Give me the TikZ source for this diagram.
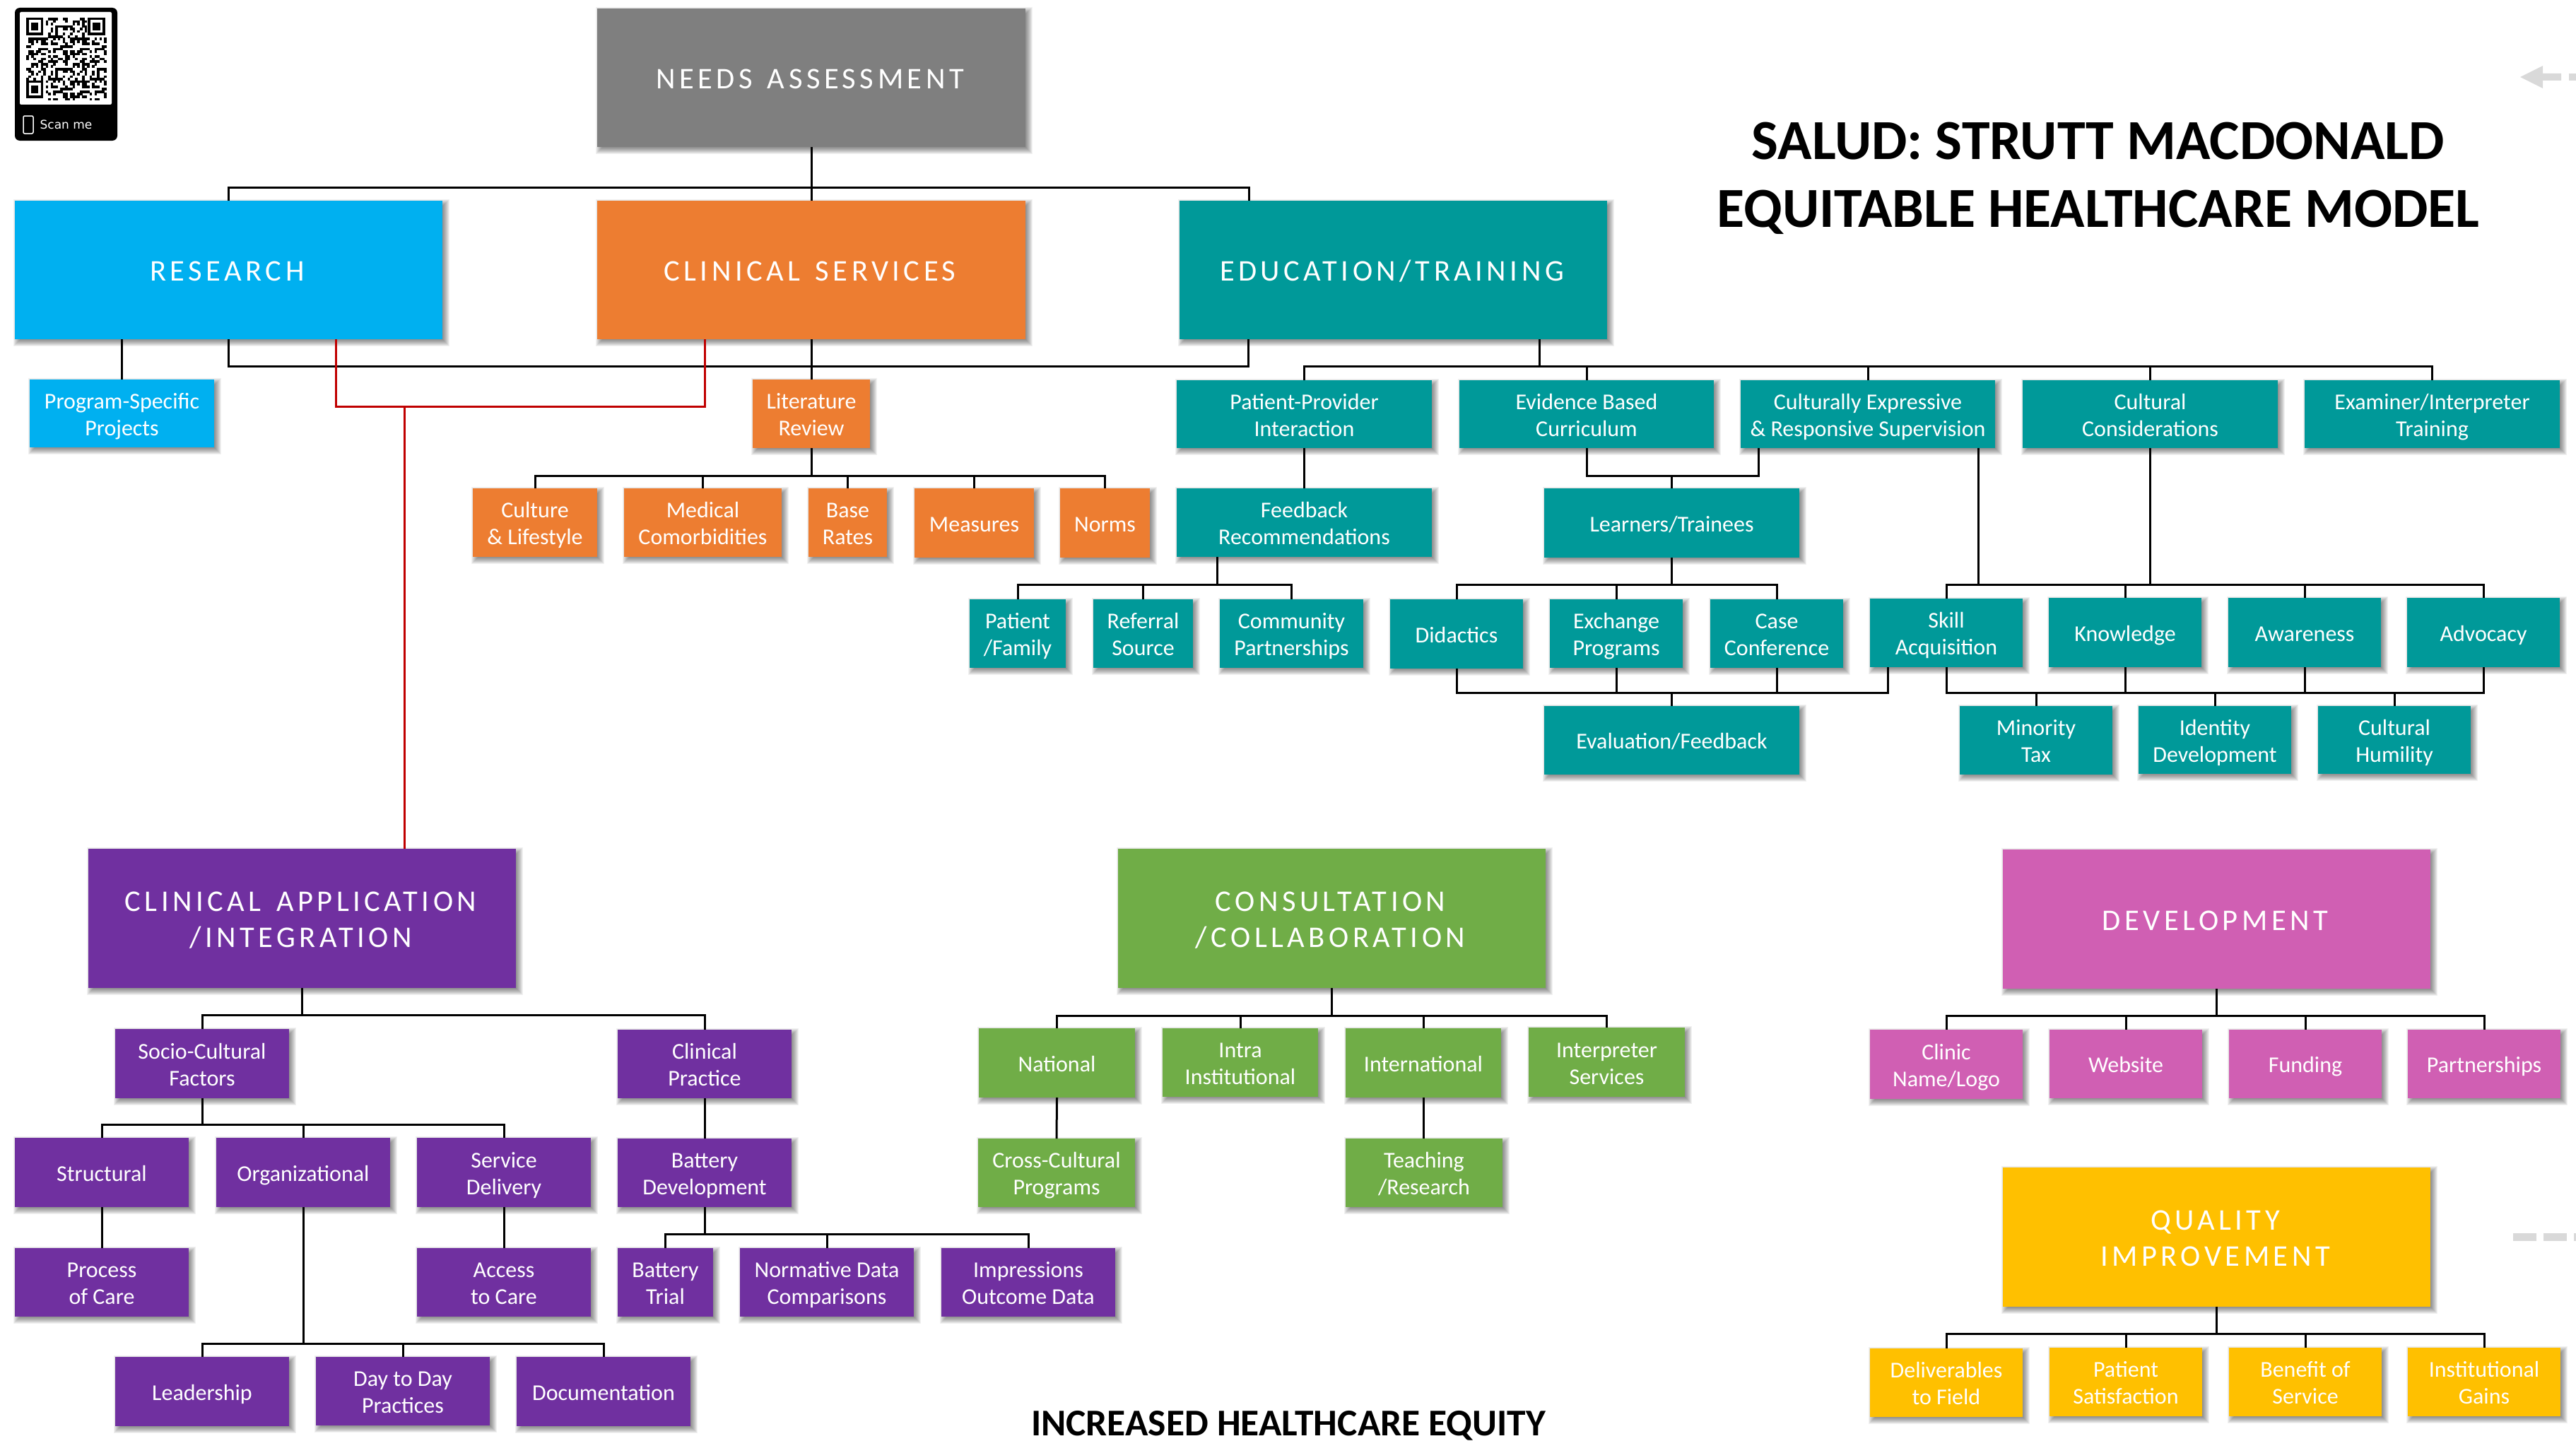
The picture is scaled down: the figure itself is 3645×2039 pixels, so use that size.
\documentclass[tikz,border=0pt]{standalone}
\usepackage{fontspec}
\setmainfont{Carlito}
\newfontfamily\bigfnt[LetterSpace=13,WordSpace=1.4]{Carlito}
\newfontfamily\scanfnt{DejaVu Sans}
\definecolor{cgray}{HTML}{7F7F7F}
\definecolor{cblue}{HTML}{00B0F0}
\definecolor{corange}{HTML}{ED7D31}
\definecolor{cteal}{HTML}{009999}
\definecolor{cpurple}{HTML}{7030A0}
\definecolor{cgreen}{HTML}{70AD47}
\definecolor{cpink}{HTML}{D05FB3}
\definecolor{cgold}{HTML}{FFC000}
\definecolor{cred}{HTML}{C00000}
\definecolor{cghost}{HTML}{D9D9D9}
\newcommand\sstrut{\rule[-7pt]{0pt}{38pt}}
\newcommand\bstrut{\rule[-10pt]{0pt}{51pt}}
\newcommand\tk{\kern4pt}
\tikzset{
  box/.style={rectangle,inner sep=0pt,outer sep=0pt,align=center,text=white},
  small/.style={font=\fontsize{32}{38}\selectfont\let\tstrut\sstrut},
  big/.style={font=\bigfnt\fontsize{42.5}{51}\selectfont\let\tstrut\bstrut},
  ln/.style={black,line width=3pt},
  rln/.style={cred,line width=3pt},
  ghost/.style={fill=cghost,draw=none},
  ttl/.style={inner sep=0pt,outer sep=0pt,align=center,text=black,font=\fontsize{80}{96}\bfseries\selectfont}
}
\newcommand\bx[8]{%
  \foreach \dd in {6,5,...,-6}{\fill[black,opacity=.055] ({#2+4-\dd},{#3+4-\dd}) rectangle ({#4+4+\dd},{#5+4+\dd});}%
  \node[box,fill=#6,#7,minimum width={#4-#2},minimum height={#5-#3}] (#1) at ({(#2+#4)/2},{(#3+#5)/2}) {\tstrut #8\tstrut};%
}
\newcommand\tree[3]{\foreach \kid in {#3}{\draw[ln] (#1) -- (#1 |- 0,#2) -| (\kid);}}
\begin{document}
\begin{tikzpicture}[x=1pt,y=-1pt]
\useasboundingbox (0,0) rectangle (3645,2039);
% QR badge
\fill[black,rounded corners=7pt] (21,11) rectangle (166,199);
\fill[white,rounded corners=2pt] (28,17) rectangle (158,148);
\foreach \i in {0,...,32}{\foreach \j in {0,...,32}{%
  \edef\aa{\the\numexpr(\i*7+\j*13+3)*(\i*5+\j*3+7)+\i*\j*\i\relax}%
  \edef\v{\the\numexpr\aa-17*(\aa/17)\relax}%
  \pgfmathtruncatemacro\zone{or(and(\i<8,\j<8),or(and(\i>24,\j<8),and(\i<8,\j>24)))}%
  \ifnum\zone=0 \ifnum\v<0 \fill[black] ({37+\i*3.45},{25+\j*3.55}) rectangle ({37+\i*3.45+3.6},{25+\j*3.55+3.7});\fi\fi
}}
\foreach \fx/\fy in {37/25,124.4/25,37/113.8}{%
  \draw[black,line width=3.5pt] ({\fx+1.75},{\fy+1.75}) rectangle ({\fx+22.4},{\fy+23.1});
  \fill[black] ({\fx+6.9},{\fy+7.1}) rectangle ({\fx+17.3},{\fy+17.8});
}
\draw[white,line width=1.5pt,rounded corners=2pt] (33,164) rectangle (47,189);
\node[inner sep=0pt,text=white,font=\scanfnt\fontsize{17}{20}\selectfont] (scan) at (93.5,176) {Scan me};
% Off-page grey marks
\fill[ghost] (3566,109) -- (3598,93) -- (3598,104) -- (3624,104) -- (3624,114) -- (3598,114) -- (3598,125) -- cycle;
\fill[ghost] (3635,104) rectangle (3645,114);
\fill[ghost] (3556,1745) rectangle (3589,1756);
\fill[ghost] (3599,1745) rectangle (3632,1756);
\fill[ghost] (3642,1745) rectangle (3645,1756);
% Titles
\node[ttl] (title) at (2969,252) {SALUD: STRUTT MACDONALD\\EQUITABLE HEALTHCARE MODEL};
\node[inner sep=0pt,text=black,font=\fontsize{53.5}{64}\bfseries\selectfont] (outcome) at (1823,2017.5) {INCREASED HEALTHCARE EQUITY};
% Top level
\bx{need}{845}{12}{1451}{208}{cgray}{big}{NEEDS ASSESSMENT\tk}
\bx{res}{21}{284}{626}{480}{cblue}{big}{RESEARCH\tk}
\bx{clin}{845}{284}{1451}{480}{corange}{big}{CLINICAL SERVICES\tk}
\bx{edu}{1669}{284}{2274}{480}{cteal}{big}{EDUCATION/TRAINING\tk}
\bx{prog}{42}{537}{303}{633}{cblue}{small}{Program-Specific\\Projects}
% Orange
\bx{lit}{1065}{537}{1231}{634}{corange}{small}{Literature\\Review}
\bx{cult}{669}{691}{845}{788}{corange}{small}{Culture\\\& Lifestyle}
\bx{med}{883}{691}{1106}{788}{corange}{small}{Medical\\Comorbidities}
\bx{base}{1144}{691}{1255}{788}{corange}{small}{Base\\Rates}
\bx{meas}{1294}{691}{1463}{789}{corange}{small}{Measures}
\bx{norm}{1500}{691}{1627}{789}{corange}{small}{Norms}
% Teal row 1
\bx{pp}{1665}{538}{2026}{634}{cteal}{small}{Patient-Provider\\Interaction}
\bx{ebc}{2065}{538}{2425}{634}{cteal}{small}{Evidence Based\\Curriculum}
\bx{ces}{2463}{538}{2823}{634}{cteal}{small}{Culturally Expressive\\\& Responsive Supervision}
\bx{cc}{2862}{538}{3223}{634}{cteal}{small}{Cultural\\Considerations}
\bx{ei}{3261}{538}{3622}{634}{cteal}{small}{Examiner/Interpreter\\Training}
% Teal row 2
\bx{fb}{1665}{691}{2026}{788}{cteal}{small}{Feedback\\Recommendations}
\bx{learn}{2185}{691}{2546}{789}{cteal}{small}{Learners/Trainees}
% Teal row 3
\bx{pf}{1372}{848}{1508}{945}{cteal}{small}{Patient\\/Family}
\bx{ref}{1547}{848}{1688}{945}{cteal}{small}{Referral\\Source}
\bx{comm}{1726}{848}{1929}{945}{cteal}{small}{Community\\Partnerships}
\bx{did}{1967}{848}{2155}{946}{cteal}{small}{Didactics}
\bx{exch}{2193}{848}{2381}{945}{cteal}{small}{Exchange\\Programs}
\bx{case}{2420}{848}{2608}{945}{cteal}{small}{Case\\Conference}
\bx{skill}{2646}{847}{2862}{944}{cteal}{small}{Skill\\Acquisition}
\bx{know}{2899}{846}{3115}{944}{cteal}{small}{Knowledge}
\bx{aware}{3153}{846}{3369}{944}{cteal}{small}{Awareness}
\bx{advo}{3406}{846}{3622}{944}{cteal}{small}{Advocacy}
% Teal row 4
\bx{eval}{2185}{999}{2546}{1096}{cteal}{small}{Evaluation/Feedback}
\bx{minor}{2773}{999}{2989}{1096}{cteal}{small}{Minority\\Tax}
\bx{ident}{3026}{999}{3242}{1095}{cteal}{small}{Identity\\Development}
\bx{humil}{3280}{999}{3496}{1095}{cteal}{small}{Cultural\\Humility}
% Purple
\bx{ca}{125}{1201}{730}{1398}{cpurple}{big}{CLINICAL APPLICATION\tk\\/INTEGRATION\tk}
\bx{socio}{163}{1456}{409}{1554}{cpurple}{small}{Socio-Cultural\\Factors}
\bx{cprac}{874}{1457}{1120}{1554}{cpurple}{small}{Clinical\\Practice}
\bx{struct}{21}{1610}{267}{1708}{cpurple}{small}{Structural}
\bx{org}{306}{1610}{552}{1708}{cpurple}{small}{Organizational}
\bx{serv}{590}{1610}{836}{1708}{cpurple}{small}{Service\\Delivery}
\bx{bdev}{874}{1611}{1120}{1708}{cpurple}{small}{Battery\\Development}
\bx{proc}{21}{1766}{267}{1863}{cpurple}{small}{Process\\of Care}
\bx{acc}{590}{1766}{836}{1863}{cpurple}{small}{Access\\to Care}
\bx{btri}{874}{1766}{1009}{1863}{cpurple}{small}{Battery\\Trial}
\bx{nrm}{1047}{1766}{1293}{1863}{cpurple}{small}{Normative Data\\Comparisons}
\bx{imp}{1332}{1766}{1578}{1863}{cpurple}{small}{Impressions\\Outcome Data}
\bx{lead}{163}{1920}{409}{2018}{cpurple}{small}{Leadership}
\bx{day}{447}{1920}{693}{2017}{cpurple}{small}{Day to Day\\Practices}
\bx{doc}{731}{1920}{977}{2018}{cpurple}{small}{Documentation}
% Green
\bx{cons}{1582}{1201}{2187}{1398}{cgreen}{big}{CONSULTATION\tk\\/COLLABORATION\tk}
\bx{nat}{1385}{1455}{1606}{1553}{cgreen}{small}{National}
\bx{intra}{1645}{1455}{1865}{1552}{cgreen}{small}{Intra\\Institutional}
\bx{intl}{1904}{1455}{2124}{1553}{cgreen}{small}{International}
\bx{interp}{2163}{1454}{2384}{1552}{cgreen}{small}{Interpreter\\Services}
\bx{cross}{1384}{1611}{1606}{1708}{cgreen}{small}{Cross-Cultural\\Programs}
\bx{teach}{1904}{1611}{2126}{1708}{cgreen}{small}{Teaching\\/Research}
% Pink
\bx{dev}{2834}{1202}{3439}{1399}{cpink}{big}{DEVELOPMENT\tk}
\bx{logo}{2646}{1457}{2862}{1555}{cpink}{small}{Clinic\\Name/Logo}
\bx{web}{2900}{1457}{3116}{1554}{cpink}{small}{Website}
\bx{fund}{3154}{1457}{3370}{1554}{cpink}{small}{Funding}
\bx{part}{3407}{1457}{3623}{1554}{cpink}{small}{Partnerships}
% Gold
\bx{qi}{2834}{1652}{3439}{1849}{cgold}{big}{QUALITY\tk\\IMPROVEMENT\tk}
\bx{deliv}{2646}{1908}{2862}{2005}{cgold}{small}{Deliverables\\to Field}
\bx{sat}{2900}{1907}{3116}{2004}{cgold}{small}{Patient\\Satisfaction}
\bx{ben}{3154}{1907}{3370}{2004}{cgold}{small}{Benefit of\\Service}
\bx{inst}{3407}{1907}{3623}{2004}{cgold}{small}{Institutional\\Gains}
% Connector ends off the node centres
\coordinate (eduTop) at ([xshift=-204.5]edu.north);
\coordinate (eduLow) at ([xshift=-205]edu.south);
\coordinate (eduKid) at ([xshift=206.5]edu.south);
\coordinate (resRed) at ([xshift=151.5]res.south);
\coordinate (clinRed) at ([xshift=-151]clin.south);
\coordinate (caRed) at ([xshift=144.5]ca.north);
\coordinate (redJoin) at (caRed |- 0,575);
\coordinate (fbLow) at ([xshift=-123.5]fb.south);
\coordinate (cesLeft) at ([xshift=-155]ces.south);
\coordinate (cesRight) at ([xshift=156]ces.south);
\coordinate (skillLeft) at ([xshift=-83]skill.south);
% Black connectors
\tree{need.south}{265}{res.north,clin.north,eduTop}
\tree{res.south}{518}{clin.south,eduLow}
\draw[ln] (prog.north |- res.south) -- (prog.north);
\draw[ln] (lit.north |- clin.south) -- (lit.north);
\tree{lit.south}{673}{cult.north,med.north,base.north,meas.north,norm.north}
\tree{eduKid}{518}{pp.north,ebc.north,ces.north,cc.north,ei.north}
\draw[ln] (pp.south) -- (fb.north);
\tree{fbLow}{827}{pf.north,ref.north,comm.north}
\tree{ebc.south}{673}{cesLeft,learn.north}
\tree{learn.south}{827}{did.north,exch.north,case.north}
\tree{did.south}{980}{exch.south,case.south,eval.north,skillLeft}
\tree{cesRight}{827}{skill.north,know.north,aware.north,advo.north}
\tree{cc.south}{827}{skill.north,advo.north}
\tree{skill.south}{980}{minor.north,ident.north,humil.north,know.south,aware.south,advo.south}
\tree{ca.south}{1436}{socio.north,cprac.north}
\tree{socio.south}{1591}{struct.north,org.north,serv.north}
\draw[ln] (struct.south) -- (proc.north);
\draw[ln] (serv.south) -- (acc.north);
\draw[ln] (cprac.south) -- (bdev.north);
\tree{org.south}{1901}{lead.north,day.north,doc.north}
\tree{bdev.south}{1746}{btri.north,nrm.north,imp.north}
\tree{cons.south}{1437}{nat.north,intra.north,intl.north,interp.north}
\draw[ln] (nat.south) -- (cross.north);
\draw[ln] (intl.south) -- (intl.south |- teach.north);
\tree{dev.south}{1437}{logo.north,web.north,fund.north,part.north}
\tree{qi.south}{1887}{deliv.north,sat.north,ben.north,inst.north}
% Red connectors
\draw[rln] (resRed) -- (resRed |- 0,575) -| (clinRed);
\draw[rln] (redJoin) -- (caRed);
\end{tikzpicture}
\end{document}
